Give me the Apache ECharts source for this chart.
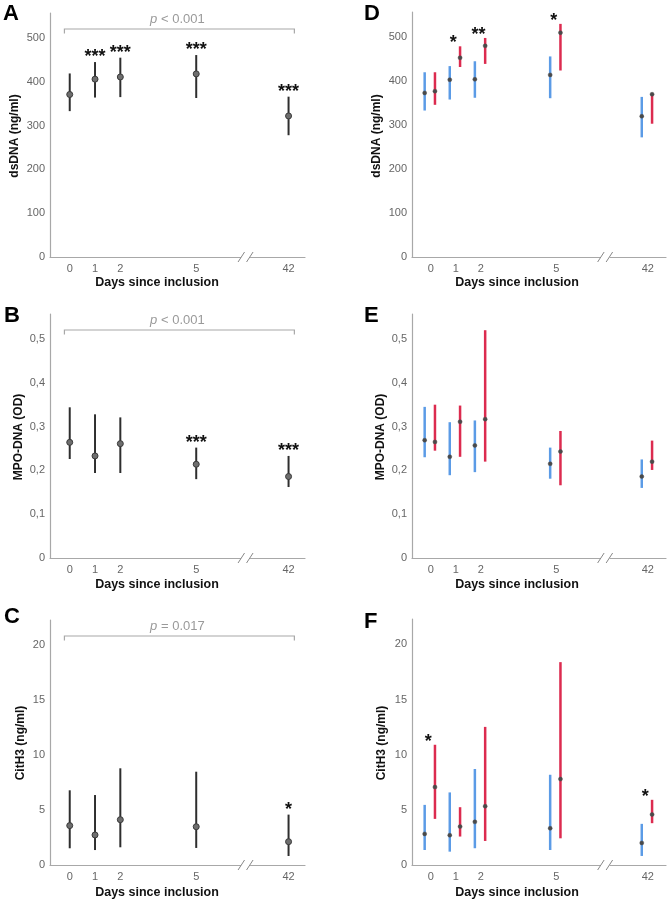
<!DOCTYPE html>
<html><head><meta charset="utf-8">
<script src="https://cdn.jsdelivr.net/npm/echarts@6.0.0/dist/echarts.min.js"></script>
<style>html,body{margin:0;padding:0;background:#fff}#c{width:668px;height:901px}</style>
</head><body><div id="c"></div>
<script>
// ---------------- data ----------------
const days = [0, 1, 2, 5, 42];
const dayLabels = ['0', '1', '2', '5', '42'];

const dsdnaTicks = [0, 100, 200, 300, 400, 500];
const mpoTicks = [0, 0.1, 0.2, 0.3, 0.4, 0.5];
const cith3Ticks = [0, 5, 10, 15, 20];

// A: dsDNA, all patients
const dsdnaMean = [371, 406, 411, 418, 322];
const dsdnaLo   = [333, 364, 365, 363, 278];
const dsdnaHi   = [419, 445, 455, 461, 366];
const dsdnaStars = ['', '***', '***', '***', '***'];
// B: MPO-DNA, all patients
const mpoMean = [0.264, 0.233, 0.261, 0.214, 0.186];
const mpoLo   = [0.226, 0.194, 0.194, 0.180, 0.162];
const mpoHi   = [0.344, 0.328, 0.321, 0.252, 0.233];
const mpoStars = ['', '', '', '***', '***'];
// C: CitH3, all patients
const cith3Mean = [3.58, 2.73, 4.12, 3.48, 2.12];
const cith3Lo   = [1.52, 1.36, 1.61, 1.55, 0.82];
const cith3Hi   = [6.79, 6.36, 8.79, 8.48, 4.58];
const cith3Stars = ['', '', '', '', '*'];

// D: dsDNA by group
const dsdnaBlueMean = [373, 403, 404, 414, 320];
const dsdnaBlueLo   = [333, 358, 362, 361, 272];
const dsdnaBlueHi   = [420, 434, 445, 456, 364];
const dsdnaRedMean  = [377, 453, 480, 510, 370];
const dsdnaRedLo    = [346, 432, 439, 424, 303];
const dsdnaRedHi    = [420, 479, 498, 530, 370];
const dsdnaGroupStars = ['', '*', '**', '*', ''];
// E: MPO-DNA by group
const mpoBlueMean = [0.269, 0.231, 0.257, 0.215, 0.186];
const mpoBlueLo   = [0.230, 0.189, 0.196, 0.181, 0.160];
const mpoBlueHi   = [0.345, 0.310, 0.314, 0.252, 0.225];
const mpoRedMean  = [0.265, 0.311, 0.317, 0.243, 0.220];
const mpoRedLo    = [0.245, 0.231, 0.220, 0.166, 0.201];
const mpoRedHi    = [0.350, 0.348, 0.520, 0.290, 0.268];
const mpoGroupStars = ['', '', '', '', ''];
// F: CitH3 by group
const cith3BlueMean = [2.82, 2.70, 3.91, 3.33, 2.00];
const cith3BlueLo   = [1.36, 1.21, 1.52, 1.36, 0.82];
const cith3BlueHi   = [5.45, 6.58, 8.70, 8.18, 3.73];
const cith3RedMean  = [7.06, 3.48, 5.33, 7.79, 4.58];
const cith3RedLo    = [4.18, 2.58, 2.18, 2.42, 3.79];
const cith3RedHi    = [10.90, 5.24, 12.52, 18.39, 5.91];
const cith3GroupStars = ['*', '', '', '', '*'];

const pTexts = ['< 0.001', '< 0.001', '= 0.017'];

// ---------------- layout / style ----------------
const FONT = "'Liberation Sans', Arial, Helvetica, sans-serif";
const BLUE = '#5b9be6', RED = '#dc2b4f';
const AXIS = '#a8a8a8';

// broken x axis: days after the break are shifted left
const BREAK_SHIFT = 33.35;
const BREAK_AT = 6.95;
function xPos(d) { return d > 6 ? d - BREAK_SHIFT : d; }

const grids = [
  { left: 50,  top: 13,  width: 255, height: 244 }, // A
  { left: 50,  top: 314, width: 255, height: 244 }, // B
  { left: 50,  top: 620, width: 255, height: 245 }, // C
  { left: 412, top: 12,  width: 254, height: 245 }, // D
  { left: 412, top: 314, width: 254, height: 244 }, // E
  { left: 412, top: 619, width: 254, height: 246 }  // F
];
const xMin = [-0.78, -0.78, -0.78, -0.745, -0.745, -0.745];
const xMax = [9.30, 9.30, 9.30, 9.375, 9.375, 9.375];
const yMax = [557, 0.557, 22.27, 557, 0.557, 22.3];
const yTicks = [dsdnaTicks, mpoTicks, cith3Ticks, dsdnaTicks, mpoTicks, cith3Ticks];

const xAxes = grids.map((g, i) => ({
  gridIndex: i, type: 'value', min: xMin[i], max: xMax[i],
  axisLine: { show: true, onZero: false, lineStyle: { color: AXIS, width: 1.2 } },
  axisTick: { show: false }, splitLine: { show: false },
  axisLabel: {
    customValues: days.map(xPos), color: '#666', fontSize: 11, fontFamily: FONT, margin: 6,
    formatter: v => { const k = days.findIndex(d => Math.abs(xPos(d) - v) < 1e-6); return k >= 0 ? dayLabels[k] : ''; }
  }
}));
const yAxes = grids.map((g, i) => ({
  gridIndex: i, type: 'value', min: 0, max: yMax[i],
  axisLine: { show: true, onZero: false, lineStyle: { color: AXIS, width: 1.2 } },
  axisTick: { show: false }, splitLine: { show: false },
  axisLabel: {
    customValues: yTicks[i], color: '#666', fontSize: 11, fontFamily: FONT, margin: 5,
    formatter: v => v === 0 ? '0' : String(+v.toFixed(2)).replace('.', ',')
  }
}));

function errSeries(gi, mean, lo, hi, offset, sty) {
  return {
    type: 'custom', xAxisIndex: gi, yAxisIndex: gi, clip: false, z: 5,
    data: days.map((d, i) => [xPos(d) + offset, mean[i], lo[i], hi[i]]),
    encode: { x: 0, y: [1, 2, 3] },
    renderItem: (params, api) => {
      const x = api.value(0);
      const pM = api.coord([x, api.value(1)]);
      const pL = api.coord([x, api.value(2)]);
      const pH = api.coord([x, api.value(3)]);
      return { type: 'group', children: [
        { type: 'line', shape: { x1: pL[0], y1: pL[1], x2: pH[0], y2: pH[1] }, style: { stroke: sty.line, lineWidth: sty.lw } },
        { type: 'circle', shape: { cx: pM[0], cy: pM[1], r: sty.r }, style: { fill: sty.fill, stroke: sty.stroke, lineWidth: sty.slw } }
      ]};
    }
  };
}
function starSeries(gi, tops, stars, offset, lift) {
  return {
    type: 'custom', xAxisIndex: gi, yAxisIndex: gi, clip: false, z: 6,
    data: days.map((d, i) => [xPos(d) + offset, tops[i]]),
    encode: { x: 0, y: 1 },
    renderItem: (params, api) => {
      const s = stars[params.dataIndex];
      if (!s) return null;
      const p = api.coord([api.value(0), api.value(1)]);
      return { type: 'text', x: p[0], y: p[1] - lift,
        style: { text: s, fill: '#111', font: 'bold 18px ' + FONT, align: 'center', verticalAlign: 'middle' } };
    }
  };
}
function bracketSeries(gi, ptxt) {
  return {
    type: 'custom', xAxisIndex: gi, yAxisIndex: gi, clip: false, z: 6,
    data: [[xPos(days[0]), yMax[gi]]],
    encode: { x: 0, y: 1 },
    renderItem: (params, api) => {
      const top = api.value(1);
      const a = api.coord([xPos(days[0]) - 0.21, top]);
      const b = api.coord([xPos(days[days.length - 1]) + 0.23, top]);
      const y = a[1] + 16;
      return { type: 'group', children: [
        { type: 'polyline', shape: { points: [[a[0], y + 4.5], [a[0], y], [b[0], y], [b[0], y + 4.5]] },
          style: { stroke: '#a8a8a8', lineWidth: 1.2, fill: null } },
        { type: 'text', x: (a[0] + b[0]) / 2 - 2, y: y - 10,
          style: { text: '{i|p} ' + ptxt, fill: '#9a9a9a', font: '13px ' + FONT, align: 'center', verticalAlign: 'middle',
            rich: { i: { fontStyle: 'italic', fontSize: 13, fontFamily: FONT, fill: '#9a9a9a' } } } }
      ]};
    }
  };
}
function breakSeries(gi) {
  return {
    type: 'custom', xAxisIndex: gi, yAxisIndex: gi, clip: false, z: 7,
    data: [[BREAK_AT, 0]], encode: { x: 0, y: 1 },
    renderItem: (params, api) => {
      const p = api.coord([api.value(0), api.value(1)]);
      const cx = p[0], cy = p[1];
      return { type: 'group', children: [
        { type: 'rect', shape: { x: cx - 4.5, y: cy - 2, width: 9, height: 4 }, style: { fill: '#fff' } },
        { type: 'line', shape: { x1: cx - 7.5, y1: cy + 5, x2: cx - 1, y2: cy - 5 }, style: { stroke: '#888', lineWidth: 1 } },
        { type: 'line', shape: { x1: cx + 1, y1: cy + 5, x2: cx + 7.5, y2: cy - 5 }, style: { stroke: '#888', lineWidth: 1 } }
      ]};
    }
  };
}

const leftSty = { line: '#2e2e2e', lw: 2, r: 3, fill: '#6e6e6e', stroke: '#3a3a3a', slw: 1 };
const blueSty = { line: BLUE, lw: 2.5, r: 2, fill: '#4a4a4a', stroke: '#4a4a4a', slw: 0.5 };
const redSty  = { line: RED,  lw: 2.5, r: 2, fill: '#4a4a4a', stroke: '#4a4a4a', slw: 0.5 };
const OB = -0.24, OR = 0.17, OS = -0.1;
const maxArr = (a, b) => a.map((v, i) => Math.max(v, b[i]));

const series = [
  errSeries(0, dsdnaMean, dsdnaLo, dsdnaHi, 0, leftSty),
  starSeries(0, dsdnaHi, dsdnaStars, 0, 5),
  bracketSeries(0, pTexts[0]),
  errSeries(1, mpoMean, mpoLo, mpoHi, 0, leftSty),
  starSeries(1, mpoHi, mpoStars, 0, 5),
  bracketSeries(1, pTexts[1]),
  errSeries(2, cith3Mean, cith3Lo, cith3Hi, 0, leftSty),
  starSeries(2, cith3Hi, cith3Stars, 0, 5),
  bracketSeries(2, pTexts[2]),
  errSeries(3, dsdnaBlueMean, dsdnaBlueLo, dsdnaBlueHi, OB, blueSty),
  errSeries(3, dsdnaRedMean, dsdnaRedLo, dsdnaRedHi, OR, redSty),
  starSeries(3, maxArr(dsdnaBlueHi, dsdnaRedHi), dsdnaGroupStars, OS, 3),
  errSeries(4, mpoBlueMean, mpoBlueLo, mpoBlueHi, OB, blueSty),
  errSeries(4, mpoRedMean, mpoRedLo, mpoRedHi, OR, redSty),
  starSeries(4, maxArr(mpoBlueHi, mpoRedHi), mpoGroupStars, OS, 3),
  errSeries(5, cith3BlueMean, cith3BlueLo, cith3BlueHi, OB, blueSty),
  errSeries(5, cith3RedMean, cith3RedLo, cith3RedHi, OR, redSty),
  starSeries(5, maxArr(cith3BlueHi, cith3RedHi), cith3GroupStars, OS, 3)
];
for (let i = 0; i < 6; i++) series.push(breakSeries(i));

// ---------------- text ----------------
const letters = [['A', 3, 3], ['B', 4, 305], ['C', 4, 606], ['D', 364, 3], ['E', 364, 305], ['F', 364, 611]];
const yNames = [['dsDNA (ng/ml)', 15, 136], ['MPO-DNA (OD)', 19, 437], ['CitH3 (ng/ml)', 21, 743],
                ['dsDNA (ng/ml)', 377, 136], ['MPO-DNA (OD)', 381, 437], ['CitH3 (ng/ml)', 382, 743]];
const xNames = [[157, 283], [157, 585], [157, 893], [517, 283], [517, 585], [517, 893]];
const graphic = [];
letters.forEach(([t, x, y]) => graphic.push({ type: 'text', x, y,
  style: { text: t, font: 'bold 22px ' + FONT, fill: '#000', align: 'left', verticalAlign: 'top' } }));
yNames.forEach(([t, x, y]) => graphic.push({ type: 'text', x, y, rotation: Math.PI / 2,
  style: { text: t, font: 'bold 12px ' + FONT, fill: '#111', align: 'center', verticalAlign: 'middle' } }));
xNames.forEach(([x, y]) => graphic.push({ type: 'text', x, y,
  style: { text: 'Days since inclusion', font: 'bold 12.5px ' + FONT, fill: '#111', align: 'center', verticalAlign: 'middle' } }));

const chart = echarts.init(document.getElementById('c'), null, { renderer: 'canvas' });
chart.setOption({
  animation: false, backgroundColor: '#fff',
  grid: grids, xAxis: xAxes, yAxis: yAxes, series, graphic
});
</script></body></html>
